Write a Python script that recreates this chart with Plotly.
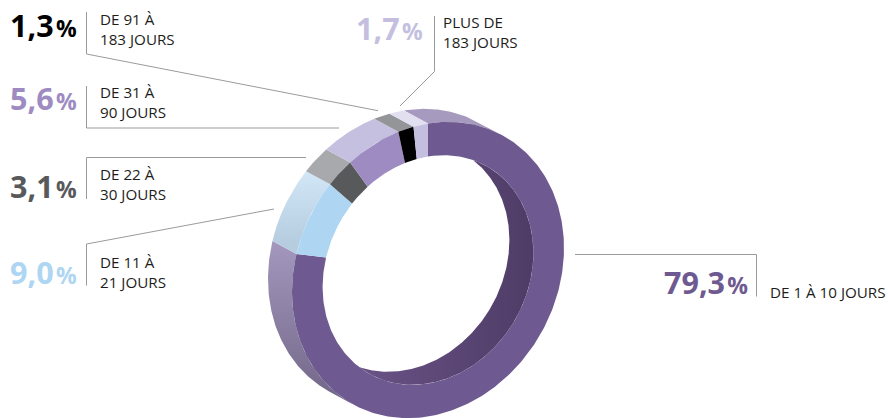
import numpy as np
import plotly.graph_objects as go

# ---- data (clockwise from the top of the ring) ----
share_labels = ["79,3", "9,0", "3,1", "5,6", "1,3", "1,7"]
# arc lengths (%) as actually drawn in the picture, measured along the ring
arc_shares = [79.1, 8.1, 3.1, 6.2, 1.8, 1.7]
range_labels = ["DE 1 À 10 JOURS", "DE 11 À<br>21 JOURS", "DE 22 À<br>30 JOURS",
                "DE 31 À<br>90 JOURS", "DE 91 À<br>183 JOURS", "PLUS DE<br>183 JOURS"]
face_colors = ["#6e5a90", "#aed6f3", "#58595b", "#9d8bc1", "#000000", "#c5bfdf"]
wall_colors = [
    [(108, "#a69abf"), (243, "#a397bd"), (395, "#74688a")],
    [(167, "#d3e9f9"), (242, "#b6cde0")],
    [(140, "#a7a9ac"), (180, "#a7a9ac")],
    [(110, "#c5c0df"), (170, "#c5c0df")],
    [(110, "#939598"), (130, "#939598")],
    [(100, "#e1dff0"), (125, "#e1dff0")],
]

# ---- projection of the ring (page pixels) ----
CENTER = np.array([428.0, 270.0])
U = np.array([136.0, -22.0])
V = np.array([0.0, -146.5])
DEPTH = np.array([-24.0, -13.0])
HOLE = 0.775


def ring(phi, scale=1.0, depth=0.0):
    p = CENTER + scale * (np.outer(np.sin(phi), U) + np.outer(np.cos(phi), V))
    return p + depth * DEPTH


def outer_wall_visible(phi):
    tx = np.cos(phi) * U[0] - np.sin(phi) * V[0]
    ty = np.cos(phi) * U[1] - np.sin(phi) * V[1]
    return (tx * DEPTH[1] - ty * DEPTH[0]) < 0


def gradient(stops, kind="vertical"):
    a, b = stops[0][0], stops[-1][0]
    return dict(type=kind, start=a, stop=b,
                colorscale=[[(v - a) / (b - a), c] for v, c in stops])


fig = go.Figure()
edges = np.cumsum([0] + arc_shares) / sum(arc_shares) * 2 * np.pi

# outer wall
for i in range(len(arc_shares)):
    phi = np.linspace(edges[i], edges[i + 1], 400)
    vis = outer_wall_visible(phi)
    runs, start = [], None
    for k, v in enumerate(vis):
        if v and start is None:
            start = k
        if (not v) and start is not None:
            runs.append((start, k))
            start = None
    if start is not None:
        runs.append((start, len(phi)))
    for a, b in runs:
        arc = phi[a:b]
        if len(arc) < 2:
            continue
        f, bk = ring(arc), ring(arc, depth=1.0)[::-1]
        pts = np.vstack([f, bk, f[:1]])
        fig.add_trace(go.Scatter(x=pts[:, 0], y=pts[:, 1], mode="lines", line=dict(width=0),
                                 fill="toself", fillgradient=gradient(wall_colors[i])))

# inner wall + see-through hole
full = np.linspace(0, 2 * np.pi, 721)
p = ring(full, HOLE)
fig.add_trace(go.Scatter(x=p[:, 0], y=p[:, 1], mode="lines", line=dict(width=0), fill="toself",
                         fillgradient=gradient([(345, "#6c5489"), (533, "#4e3c66")], "horizontal")))
p = ring(full, HOLE, 1.0)
fig.add_trace(go.Scatter(x=p[:, 0], y=p[:, 1], mode="lines", line=dict(width=0), fill="toself",
                         fillcolor="#ffffff"))

# front face
for i in range(len(arc_shares)):
    phi = np.linspace(edges[i], edges[i + 1], 300)
    pts = np.vstack([ring(phi), ring(phi[::-1], HOLE), ring(phi[:1])])
    fig.add_trace(go.Scatter(x=pts[:, 0], y=pts[:, 1], mode="lines", line=dict(width=0),
                             fill="toself", fillcolor=face_colors[i]))

# ---- leader lines and labels ----
LEADERS = [
    [(575, 254.5), (756.5, 254.5), (756.5, 296.5)],
    [(86.5, 285.5), (86.5, 244), (274, 209)],
    [(86.5, 199), (86.5, 157.5), (306, 157.5)],
    [(86.5, 86), (86.5, 128), (339, 128)],
    [(86.5, 12), (86.5, 54), (378, 110.7)],
    [(434.5, 16), (434.5, 71.5), (400, 106)],
]
VALUE_POS = [(750, 282), (79, 272), (79, 186), (79, 98), (79, 25), (425, 28)]
TEXT_POS = [(768, 292), (98, 272), (98, 184), (98, 102), (98, 29), (441, 32)]

for i in range(len(arc_shares)):
    xs, ys = zip(*LEADERS[i])
    fig.add_trace(go.Scatter(x=xs, y=ys, mode="lines", line=dict(color="#9b9b9b", width=1)))
    fig.add_annotation(x=VALUE_POS[i][0], y=VALUE_POS[i][1], xanchor="right", yanchor="middle",
                       showarrow=False, align="right",
                       text=f"<b>{share_labels[i]}</b><span style='font-size:23px'>\u200a<b>%</b></span>",
                       font=dict(family="Open Sans", size=30.5, color=face_colors[i]))
    fig.add_annotation(x=TEXT_POS[i][0], y=TEXT_POS[i][1], xanchor="left", yanchor="middle",
                       showarrow=False, align="left", text=range_labels[i],
                       font=dict(family="Open Sans", size=15.2, color="#1d1d1b"))

fig.update_layout(
    width=888, height=418, margin=dict(l=0, r=0, t=0, b=0), showlegend=False,
    paper_bgcolor="white", plot_bgcolor="white", hovermode=False,
    xaxis=dict(range=[0, 888], visible=False, fixedrange=True),
    yaxis=dict(range=[418, 0], visible=False, fixedrange=True),
)
fig.write_html("out.html", config=dict(displayModeBar=False),
               post_script="document.body.style.margin='0';document.documentElement.style.overflow='hidden';")
